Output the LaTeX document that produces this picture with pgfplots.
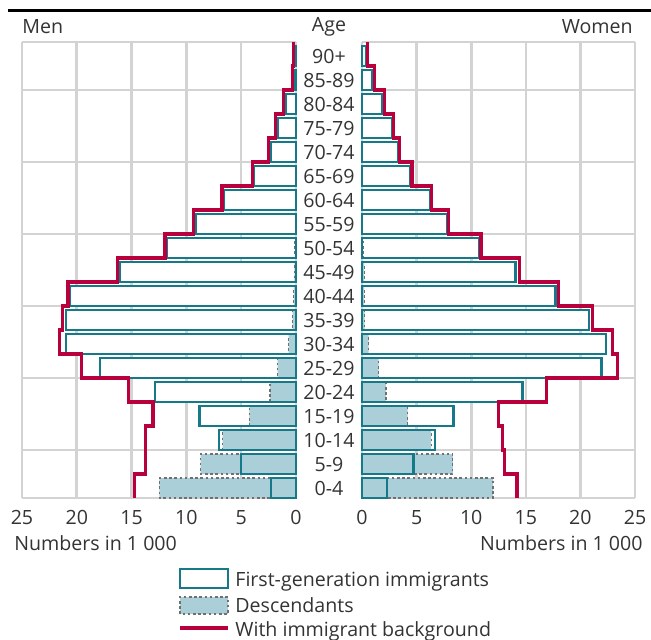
\documentclass[border=0pt]{standalone}
\usepackage{fontspec}
\setmainfont{Open Sans}
\usepackage{pgfplots}
\usepackage{pgfplotstable}
\pgfplotsset{compat=1.18}
\definecolor{tealc}{HTML}{16798A}
\definecolor{descfill}{HTML}{AACFD8}
\definecolor{redc}{HTML}{B8003C}
\definecolor{gridc}{HTML}{D3D3D3}
\definecolor{dashc}{HTML}{707070}
\definecolor{txt}{HTML}{333333}
\newcommand{\lab}{\fontsize{9.8}{11.5}\selectfont}

% idx: age group (0 = 0-4 ... 18 = 90+), numbers in 1 000
\pgfplotstableread{
idx first desc
0  2.30 12.46
1  5.00 8.70
2  7.05 6.70
3  8.80 4.26
4  12.90 2.37
5  17.90 1.67
6  20.95 0.67
7  21.00 0.30
8  20.60 0.20
9  16.10 0.15
10 11.80 0.10
11 9.10 0.05
12 6.55 0.03
13 3.80 0.02
14 2.30 0.02
15 1.65 0.01
16 0.90 0.01
17 0.15 0.00
18 0.15 0.00
}\menTable
\pgfplotstableread{
idx first desc
0  2.29 12.00
1  4.72 8.32
2  6.70 6.34
3  8.38 4.17
4  14.70 2.19
5  21.93 1.52
6  22.33 0.60
7  20.80 0.24
8  17.72 0.20
9  14.06 0.20
10 10.74 0.10
11 7.75 0.05
12 6.23 0.03
13 4.40 0.02
14 3.28 0.02
15 2.72 0.01
16 1.88 0.01
17 0.88 0.00
18 0.35 0.00
}\womenTable

\pgfplotsset{
  pyr/.style={
    scale only axis, anchor=south west, height=228pt,
    xmin=0, xmax=25, ymin=-0.4167, ymax=18.5833,
    xtick={0,5,...,25},
    ytick={-0.4167,1.5833,4.5833,7.5833,10.5833,13.5833,16.5833,18.5833},
    yticklabels={,,,,,,,},
    xmajorgrids, ymajorgrids,
    grid style={draw=gridc, line width=1.3pt},
    axis line style={draw=none},
    major tick length=0pt,
    /pgf/number format/assume math mode=true,
    xticklabel style={font=\lab, text=txt, yshift=-2.5pt},
    clip=false,
  },
  fgfill/.style={xbar, bar width=0.8333, bar shift=0pt, fill=white, draw=none},
  dsc/.style={xbar, bar width=0.8333, bar shift=0pt, fill=descfill, draw=dashc,
    line width=0.6pt, dash pattern=on 1.3pt off 1.3pt},
  fgline/.style={xbar, bar width=0.8333, bar shift=0pt, fill=none, draw=tealc,
    line width=1.1pt},
  tot/.style={redc, line width=1.6pt, const plot mark right, no marks, line join=miter},
}

\begin{document}
\begin{tikzpicture}
\useasboundingbox (0,0) rectangle (325.5pt,319.5pt);

% ---- Men ----
\begin{axis}[pyr, name=men, at={(11pt,70.5pt)}, width=137pt, x dir=reverse]
\addplot[fgfill] table[x=first, y=idx] {\menTable};
\addplot[dsc] table[x=desc, y=idx] {\menTable};
\addplot[fgline] table[x=first, y=idx] {\menTable};
\addplot[tot] coordinates {
  (14.75,-0.4167) (13.75,0.5833) (13.7,1.5833) (13.05,2.5833) (15.25,3.5833)
  (19.6,4.5833) (21.6,5.5833) (21.27,6.5833) (20.8,7.5833) (16.3,8.5833)
  (11.95,9.5833) (9.35,10.5833) (6.75,11.5833) (3.98,12.5833) (2.5,13.5833)
  (1.85,14.5833) (1.15,15.5833) (0.35,16.5833) (0.25,17.5833) (0.25,18.5833)};
\end{axis}

% ---- Women ----
\begin{axis}[pyr, name=women, at={(181pt,70.5pt)}, width=136.5pt]
\addplot[fgfill] table[x=first, y=idx] {\womenTable};
\addplot[dsc] table[x=desc, y=idx] {\womenTable};
\addplot[fgline] table[x=first, y=idx] {\womenTable};
\addplot[tot] coordinates {
  (14.2,-0.4167) (13.03,0.5833) (12.88,1.5833) (12.5,2.5833) (16.93,3.5833)
  (23.42,4.5833) (22.96,5.5833) (21.13,6.5833) (17.99,7.5833) (14.39,8.5833)
  (10.9,9.5833) (7.93,10.5833) (6.4,11.5833) (4.57,12.5833) (3.41,13.5833)
  (2.9,14.5833) (2.04,15.5833) (1.12,16.5833) (0.5,17.5833) (0.5,18.5833)};
\end{axis}

% top rule
\draw[black, line width=1.4pt] (4pt,314.2pt) -- (325.5pt,314.2pt);

% headers
\node[font=\lab, text=txt, anchor=west, inner sep=0pt] at (11pt,306pt) {Men};
\node[font=\lab, text=txt, inner sep=0pt] at (164.5pt,306pt) {Age};
\node[font=\lab, text=txt, anchor=east, inner sep=0pt] at (316.5pt,306pt) {Women};

% age group labels
\foreach \a [count=\i from 0] in {0-4,5-9,10-14,15-19,20-24,25-29,30-34,35-39,40-44,45-49,50-54,55-59,60-64,65-69,70-74,75-79,80-84,85-89,90+}
  \node[font=\lab, text=txt, inner sep=0pt] at (164.5pt,{75.5pt+12pt*\i}) {\a};

% unit labels
\node[font=\lab, text=txt, anchor=west, inner sep=0pt] at (7pt,48pt) {Numbers in 1 000};
\node[font=\lab, text=txt, anchor=east, inner sep=0pt] at (321.5pt,48pt) {Numbers in 1 000};

% legend
\draw[tealc, line width=1.1pt, fill=white] (90pt,25.5pt) rectangle (114pt,35pt);
\node[font=\lab, text=txt, anchor=base west, inner sep=0pt] at (117.5pt,26.5pt) {First-generation immigrants};
\draw[dashc, line width=0.6pt, dash pattern=on 1.3pt off 1.3pt, fill=descfill] (90pt,12.5pt) rectangle (114pt,21pt);
\node[font=\lab, text=txt, anchor=base west, inner sep=0pt] at (117.5pt,13.5pt) {Descendants};
\draw[redc, line width=1.6pt] (90pt,5.5pt) -- (114pt,5.5pt);
\node[font=\lab, text=txt, anchor=base west, inner sep=0pt] at (117.5pt,1.5pt) {With immigrant background};
\end{tikzpicture}
\end{document}
